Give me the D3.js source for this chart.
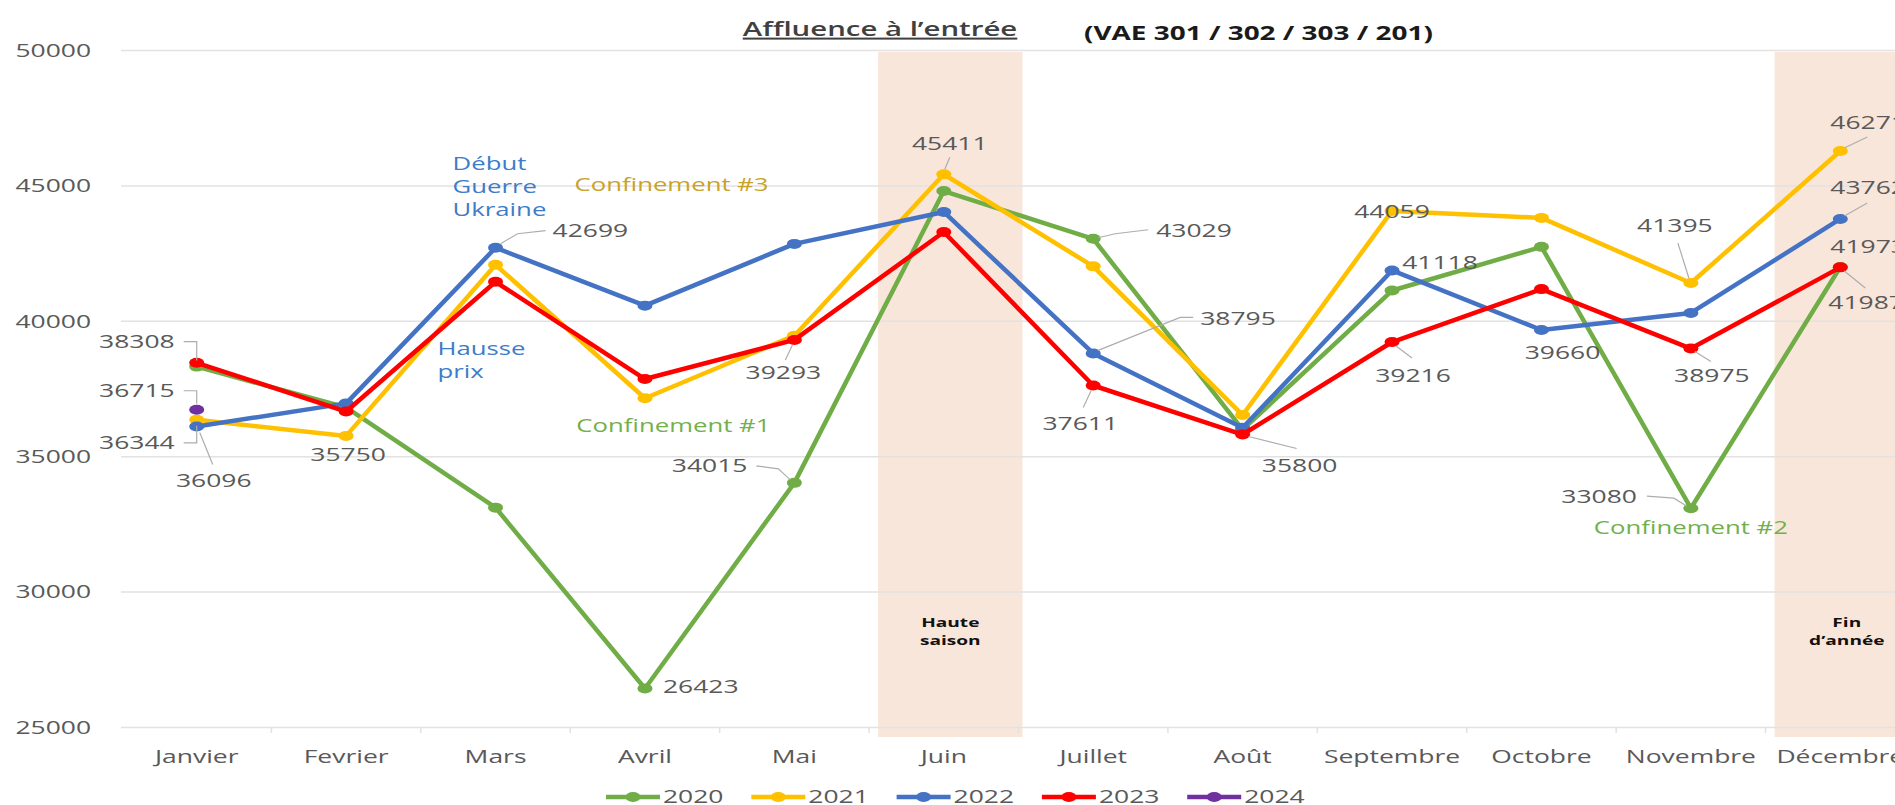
<!DOCTYPE html>
<html>
<head>
<meta charset="utf-8">
<script src="https://cdn.jsdelivr.net/npm/d3@7"></script>
<style>
  body { margin: 0; background: #fff; }
  svg { display: block; font-family: 'Open Sans', sans-serif; }
</style>
</head>
<body>
<svg id="chart"></svg>
<script>
const months = ['Janvier', 'Fevrier', 'Mars', 'Avril', 'Mai', 'Juin', 'Juillet', 'Août', 'Septembre', 'Octobre', 'Novembre', 'Décembre']
const years = ['2020', '2021', '2022', '2023', '2024']
const v2020 = [38308, 36800, 33100, 26423, 34015, 44790, 43029, 35980, 41118, 42730, 33080, 41987]
const v2021 = [36344, 35750, 42070, 37140, 39450, 45411, 42010, 36520, 44059, 43800, 41395, 46271]
const v2022 = [36096, 36950, 42699, 40560, 42840, 44020, 38795, 36050, 41860, 39660, 40290, 43762]
const v2023 = [38450, 36650, 41440, 37850, 39293, 43280, 37611, 35800, 39216, 41170, 38975, 41973]
const v2024 = [36715]
const yTicks = [25000, 30000, 35000, 40000, 45000, 50000]

const seriesColors = ['#70AD47', '#FFC000', '#4472C4', '#FF0000', '#7030A0']
const series = years.map((yr, i) => ({
    year: yr,
    values: [v2020, v2021, v2022, v2023, v2024][i],
    color: seriesColors[i]
}))
const valueOf = (yr, m) => series.find(s => s.year === yr).values[m]

// which points carry a value label, and where it sits relative to the point
const dataLabels = [
    { year: '2020', m: 0, dx: -22, dy: -25, anchor: 'end', leader: [[-13, -25], [0, -25], [0, -6]] },
    { year: '2024', m: 0, dx: -22, dy: -19, anchor: 'end', leader: [[-13, -19], [0, -19], [0, -6]] },
    { year: '2021', m: 0, dx: -22, dy: 23, anchor: 'end', leader: [[-13, 23], [0, 23], [0, 6]] },
    { year: '2022', m: 0, dx: 17, dy: 54, anchor: 'middle', leader: [[3, 6], [16, 38]] },
    { year: '2021', m: 1, dx: 2, dy: 19, anchor: 'middle' },
    { year: '2022', m: 2, dx: 57, dy: -17, anchor: 'start', leader: [[5, -4], [22, -14], [50, -17]] },
    { year: '2020', m: 3, dx: 18, dy: -2, anchor: 'start' },
    { year: '2023', m: 4, dx: -11, dy: 33, anchor: 'middle', leader: [[-2, 5], [-9, 20]] },
    { year: '2020', m: 4, dx: -47, dy: -17, anchor: 'end', leader: [[-4, -3], [-16, -14], [-38, -17]] },
    { year: '2021', m: 5, dx: 6, dy: -31, anchor: 'middle', leader: [[1, -5], [6, -17]] },
    { year: '2020', m: 6, dx: 63, dy: -8, anchor: 'start', leader: [[5, -1], [22, -5], [55, -9]] },
    { year: '2022', m: 6, dx: 107, dy: -35, anchor: 'start', leader: [[5, -3], [87, -36], [100, -36]] },
    { year: '2023', m: 6, dx: -13, dy: 38, anchor: 'middle', leader: [[-2, 5], [-10, 22]] },
    { year: '2023', m: 7, dx: 57, dy: 31, anchor: 'middle', leader: [[6, 2], [54, 14]] },
    { year: '2021', m: 8, dx: 0, dy: 1, anchor: 'middle' },
    { year: '2020', m: 8, dx: 48, dy: -28, anchor: 'middle' },
    { year: '2023', m: 8, dx: 21, dy: 34, anchor: 'middle', leader: [[4, 4], [20, 16]] },
    { year: '2022', m: 9, dx: 21, dy: 23, anchor: 'middle' },
    { year: '2021', m: 10, dx: -16, dy: -57, anchor: 'middle', leader: [[-2, -5], [-13, -40]] },
    { year: '2023', m: 10, dx: 21, dy: 27, anchor: 'middle', leader: [[4, 3], [20, 13]] },
    { year: '2020', m: 10, dx: -54, dy: -11, anchor: 'end', leader: [[-4, -2], [-17, -10], [-44, -12]] },
    { year: '2021', m: 11, dx: -10, dy: -28, anchor: 'start', leader: [[4, -3], [27, -14]] },
    { year: '2022', m: 11, dx: -10, dy: -31, anchor: 'start', leader: [[4, -3], [27, -16]] },
    { year: '2023', m: 11, dx: -10, dy: -21, anchor: 'start' },
    { year: '2020', m: 11, dx: -12, dy: 36, anchor: 'start', leader: [[4, 4], [25, 21]] }
]

const notes = [
    { lines: ['Début', 'Guerre', 'Ukraine'], m: 2, dx: -43, v: 45790, fill: '#3D7CC9', anchor: 'start' },
    { lines: ['Confinement #3'], m: 2, dx: 79, v: 45015, fill: '#C9A227', anchor: 'start' },
    { lines: ['Hausse', 'prix'], m: 2, dx: -58, v: 38960, fill: '#3D7CC9', anchor: 'start' },
    { lines: ['Confinement #1'], m: 4, dx: -24, v: 36134, fill: '#72B04C', anchor: 'end' },
    { lines: ['Confinement #2'], m: 10, dx: 0, v: 32349, fill: '#72B04C', anchor: 'middle' }
]

const highlights = [
    { m: 5, lines: ['Haute', 'saison'] },
    { m: 11, lines: ['Fin', 'd\u2019année'] }
]

const W = 1895
const H = 805
const SX = 1.47   // the reference is stretched horizontally

const svg = d3.select('#chart').attr('width', W).attr('height', H)

const x = d3.scaleBand().domain(months).range([122, 1915]).padding(0)
const xc = m => x(months[m]) + x.bandwidth() / 2
const y = d3.scaleLinear().domain([25000, 50000]).range([727, 50])

function addText(parent, px, py, str, o = {}) {
    return parent.append('text')
        .attr('transform', `translate(${px},${py}) scale(${SX},1)`)
        .attr('text-anchor', o.anchor || 'start')
        .attr('dy', o.dy || '0.35em')
        .attr('font-size', o.size || 18)
        .attr('font-weight', o.weight || 400)
        .attr('fill', o.fill || '#595959')
        .text(str)
}

// shaded periods
const bandG = svg.append('g')
highlights.forEach(h => {
    const bx = x(months[h.m]) + 9
    bandG.append('rect')
        .attr('x', bx)
        .attr('y', y(50000) + 2)
        .attr('width', x.bandwidth() - 5)
        .attr('height', y(25000) - y(50000) + 8)
        .attr('fill', '#F9E6DB')
    h.lines.forEach((t, i) => {
        addText(bandG, bx + (x.bandwidth() - 5) / 2, y(25000) - 105 + i * 18, t,
            { anchor: 'middle', size: 13, weight: 700, fill: '#111' })
    })
})

// y axis + grid
const yAxis = svg.append('g')
    .attr('transform', 'translate(121,0)')
    .call(d3.axisLeft(y).tickValues(yTicks).tickSize(-(W - 121)).tickFormat(d3.format('d')))
yAxis.select('.domain').remove()
yAxis.selectAll('.tick line').attr('stroke', '#E2E2E2').attr('stroke-width', 1.5)
yAxis.selectAll('.tick text')
    .attr('x', 0)
    .attr('dy', '0.35em')
    .attr('transform', `translate(-30,0) scale(${SX},1)`)
    .attr('font-size', 18)
    .attr('font-family', 'Open Sans, sans-serif')
    .attr('fill', '#595959')

// x axis
const xAxis = svg.append('g')
    .attr('transform', `translate(0,${y(25000)})`)
    .call(d3.axisBottom(x).tickSize(0).tickPadding(23))
xAxis.select('.domain').remove()
xAxis.selectAll('.tick text')
    .attr('dy', '0.71em')
    .attr('transform', `scale(${SX},1)`)
    .attr('font-size', 18)
    .attr('font-family', 'Open Sans, sans-serif')
    .attr('fill', '#595959')
xAxis.selectAll('.sep')
    .data(months.slice(1))
    .enter().append('line')
    .attr('class', 'sep')
    .attr('x1', d => x(d)).attr('x2', d => x(d))
    .attr('y1', 0).attr('y2', 6)
    .attr('stroke', '#E2E2E2')
    .attr('stroke-width', 1.5)

// title
addText(svg, 880, 29, 'Affluence à l\u2019entrée', { anchor: 'middle', size: 20, weight: 600, fill: '#404040', dy: 0 })
    .style('text-decoration', 'underline')
addText(svg, 1084, 33, '(VAE 301 / 302 / 303 / 201)', { size: 19, weight: 700, fill: '#1A1A1A', dy: 0 })

// lines and markers
const line = d3.line().x((d, i) => xc(i)).y(d => y(d))
const lineG = svg.append('g')
series.forEach(s => {
    lineG.append('path')
        .datum(s.values)
        .attr('d', line)
        .attr('fill', 'none')
        .attr('stroke', s.color)
        .attr('stroke-width', 4.5)
        .attr('stroke-linejoin', 'round')
    lineG.selectAll(null)
        .data(s.values)
        .enter().append('ellipse')
        .attr('cx', (d, i) => xc(i))
        .attr('cy', d => y(d))
        .attr('rx', 7.5)
        .attr('ry', 5)
        .attr('fill', s.color)
})

// value labels
const labG = svg.append('g')
const leader = d3.line()
dataLabels.forEach(l => {
    const v = valueOf(l.year, l.m)
    const px = xc(l.m)
    const py = y(v)
    if (l.leader) {
        labG.append('path')
            .attr('d', leader(l.leader.map(p => [px + p[0], py + p[1]])))
            .attr('fill', 'none')
            .attr('stroke', '#ADADAD')
            .attr('stroke-width', 1.2)
    }
    addText(labG, px + l.dx, py + l.dy, String(v), { anchor: l.anchor })
})

// annotations
notes.forEach(n => {
    n.lines.forEach((t, i) => {
        addText(svg, xc(n.m) + n.dx, y(n.v) + i * 23, t, { anchor: n.anchor, size: 17.5, fill: n.fill })
    })
})

// legend
const legend = svg.append('g').attr('transform', 'translate(606,797)')
series.forEach((s, i) => {
    const g = legend.append('g').attr('transform', `translate(${i * 145.3},0)`)
    g.append('line')
        .attr('x1', 0).attr('x2', 54)
        .attr('stroke', s.color)
        .attr('stroke-width', 4.5)
    g.append('ellipse')
        .attr('cx', 27).attr('rx', 7.5).attr('ry', 5)
        .attr('fill', s.color)
    addText(g, 57, 0, s.year, { size: 18 })
})
</script>
</body>
</html>
